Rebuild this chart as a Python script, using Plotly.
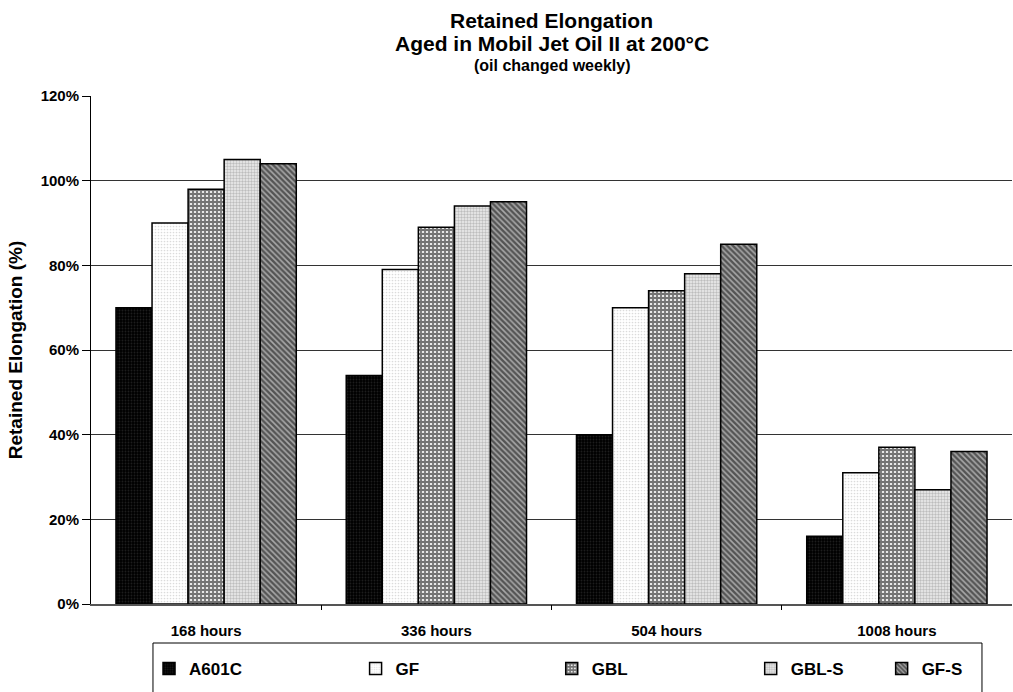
import plotly.graph_objects as go

categories = ["168 hours", "336 hours", "504 hours", "1008 hours"]
series_names = ["A601C", "GF", "GBL", "GBL-S", "GF-S"]
a601c = [70, 54, 40, 16]
gf = [90, 79, 70, 31]
gbl = [98, 89, 74, 37]
gbl_s = [105, 94, 78, 27]
gf_s = [104, 95, 85, 36]
y_ticks = [0, 20, 40, 60, 80, 100, 120]
y_tick_labels = ["0%", "20%", "40%", "60%", "80%", "100%", "120%"]

series_values = [a601c, gf, gbl, gbl_s, gf_s]
patterns = [
    dict(shape=".", bgcolor="#000000", fgcolor="#3a3a3a", size=3, solidity=0.3),
    dict(shape=".", bgcolor="#ffffff", fgcolor="#b8b8b8", size=3, solidity=0.25),
    dict(shape="+", bgcolor="#e8e8e8", fgcolor="#000000", size=4, solidity=0.7),
    dict(shape=".", bgcolor="#eeeeee", fgcolor="#8c8c8c", size=3, solidity=0.5),
    dict(shape="\\", bgcolor="#a8a8a8", fgcolor="#000000", size=4, solidity=0.6),
]
# trailing padding (non-breaking spaces) to spread legend entries like the original
legend_pad = [23, 27, 25, 7, 0]

FONT = "Arial, Liberation Sans, sans-serif"
fig = go.Figure()
for name, vals, pat, pad in zip(series_names, series_values, patterns, legend_pad):
    fig.add_trace(go.Bar(
        x=categories, y=vals, name=name + "&nbsp;" * pad,
        hovertemplate=name + ": %{y}%<extra></extra>",
        marker=dict(color=pat["bgcolor"], pattern=pat,
                    line=dict(color="#000000", width=1.5)),
    ))

# invisible helper trace for between-category tick marks
fig.add_trace(go.Scatter(x=[None], y=[None], xaxis="x2", showlegend=False, hoverinfo="skip"))

fig.update_layout(
    width=1013, height=692,
    margin=dict(l=91, r=1, t=96, b=88, autoexpand=False),
    paper_bgcolor="white", plot_bgcolor="white",
    font=dict(family=FONT, color="#000000"),
    barmode="group", bargap=0.217, bargroupgap=0,
    showlegend=True,
    legend=dict(
        orientation="h", xref="paper", x=0.063, xanchor="left",
        y=-0.077, yanchor="top",
        borderwidth=0, bgcolor="rgba(0,0,0,0)",
        font=dict(size=17, family=FONT, weight="bold"),
        title=dict(text=" ", side="top", font=dict(size=6)),
    ),
    xaxis=dict(
        type="category", showline=True, linecolor="#555555", linewidth=1.5,
        ticks="", showgrid=False, ticklabelstandoff=12,
        tickfont=dict(size=15, family=FONT, weight="bold"),
    ),
    xaxis2=dict(
        overlaying="x", range=[-0.5, 3.5], tickvals=[0.5, 1.5, 2.5],
        ticktext=["", "", ""], ticks="outside", ticklen=5, tickcolor="#000000",
        showgrid=False, showline=False, zeroline=False, side="bottom",
    ),
    yaxis=dict(
        range=[0, 120], tickvals=y_ticks, ticktext=y_tick_labels,
        showline=True, linecolor="#000000", linewidth=1,
        ticks="outside", ticklen=8, tickcolor="#000000",
        showgrid=True, gridcolor="#333333", gridwidth=1, zeroline=False,
        tickfont=dict(size=15, family=FONT, weight="bold"),
        title=dict(text="Retained Elongation (%)", standoff=12,
                   font=dict(size=19, family=FONT, weight="bold")),
    ),
    shapes=[
        dict(type="rect", xref="paper", yref="paper", x0=0.0673, x1=0.9674,
             y0=-0.0768, y1=-0.25, line=dict(color="#000000", width=1),
             fillcolor="rgba(0,0,0,0)", layer="above"),
    ],
    annotations=[
        dict(text="<b>Retained Elongation</b>", x=0.5, y=1.1496, xref="paper", yref="paper",
             showarrow=False, font=dict(size=21, family=FONT), yanchor="middle"),
        dict(text="<b>Aged in Mobil Jet Oil II at 200°C</b>", x=0.5, y=1.1043, xref="paper", yref="paper",
             showarrow=False, font=dict(size=21, family=FONT), yanchor="middle"),
        dict(text="<b>(oil changed weekly)</b>", x=0.5, y=1.061, xref="paper", yref="paper",
             showarrow=False, font=dict(size=16, family=FONT), yanchor="middle"),
    ],
)

fig.write_html("out.html")
